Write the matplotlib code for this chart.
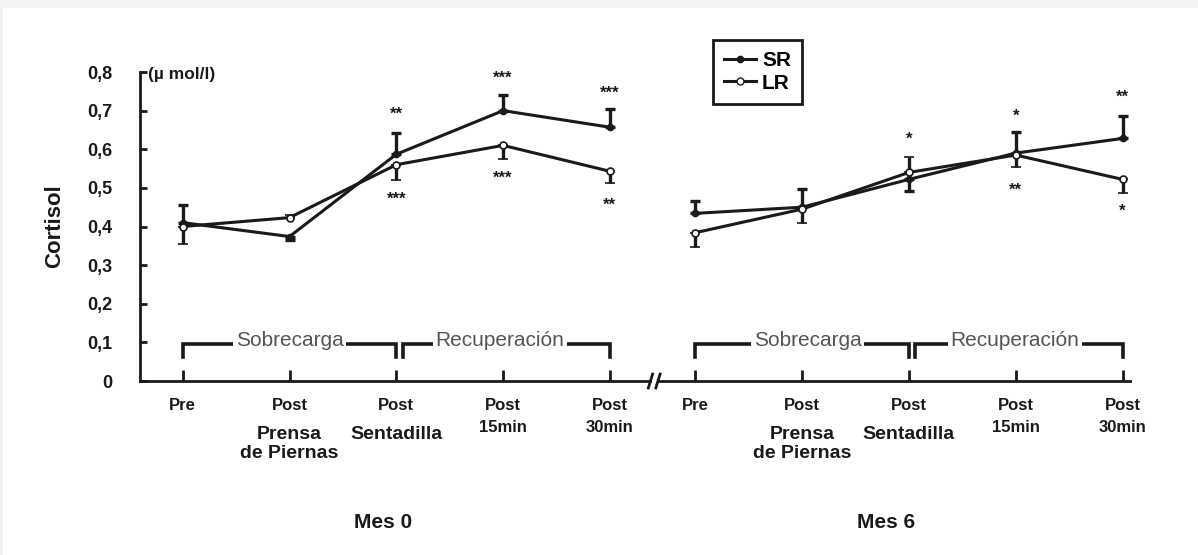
import numpy as np
import matplotlib
matplotlib.use("Agg")
import matplotlib.pyplot as plt
from matplotlib.patches import Rectangle
from matplotlib.lines import Line2D
from matplotlib.ticker import FuncFormatter

plt.rcParams['font.family'] = ['Liberation Sans', 'DejaVu Sans']

# datos (umol/l)
sr_mes0 = [0.410, 0.374, 0.587, 0.700, 0.657]
lr_mes0 = [0.400, 0.423, 0.560, 0.610, 0.543]
sr_err0 = [0.045, 0.010, 0.055, 0.040, 0.048]
lr_err0 = [0.045, 0.008, 0.040, 0.036, 0.030]

sr_mes6 = [0.434, 0.450, 0.522, 0.590, 0.628]
lr_mes6 = [0.384, 0.445, 0.540, 0.585, 0.522]
sr_err6 = [0.031, 0.048, 0.030, 0.055, 0.058]
lr_err6 = [0.036, 0.035, 0.040, 0.030, 0.034]

pos0 = [0, 1, 2, 3, 4]
pos6 = [4.8, 5.8, 6.8, 7.8, 8.8]

linea1 = ['Pre', 'Post', 'Post', 'Post', 'Post']
linea2 = ['', 'Prensa\nde Piernas', 'Sentadilla', '15min', '30min']

# asteriscos: (posicion, y, texto)
stars0 = [(2, 0.690, '**'), (2, 0.470, '***'), (3, 0.785, '***'), (3, 0.525, '***'),
          (4, 0.745, '***'), (4, 0.455, '**')]
stars6 = [(6.8, 0.625, '*'), (7.8, 0.685, '*'), (7.8, 0.495, '**'),
          (8.8, 0.735, '**'), (8.8, 0.440, '*')]

W, H = 1198, 555
fig = plt.figure(figsize=(W / 100, H / 100), dpi=100, facecolor='#f3f3f3')
fig.patches.append(Rectangle((3 / W, 0), 1, 1 - 8 / H, transform=fig.transFigure,
                             facecolor='white', edgecolor='none', zorder=-1))

ax = fig.add_axes([140 / W, 174 / H, 990 / W, 309 / H])
ax.set_facecolor('none')
ax.set_xlim(-0.4, 8.87)
ax.set_ylim(0, 0.8)
ink = '#1a1a1a'

for s in ['top', 'right', 'bottom']:
    ax.spines[s].set_visible(False)
ax.spines['left'].set_linewidth(2)
ax.spines['left'].set_color(ink)

# eje x partido
ax.plot([-0.4, 4.38], [0, 0], color=ink, lw=2, clip_on=False)
ax.plot([4.45, 8.87], [0, 0], color=ink, lw=2, clip_on=False)
for xb in [4.38, 4.45]:
    ax.plot([xb - 0.02, xb + 0.02], [-0.018, 0.018], color=ink, lw=2, clip_on=False)

ax.set_yticks(np.arange(0, 0.81, 0.1))
ax.yaxis.set_major_formatter(FuncFormatter(lambda v, p: '0' if v == 0 else ('%.1f' % v).replace('.', ',')))
ax.tick_params(axis='y', direction='in', length=5, width=2, color=ink, pad=20,
               labelsize=13)
for lab in ax.get_yticklabels():
    lab.set_fontweight('bold')
    lab.set_color(ink)
ax.set_xticks(pos0 + pos6)
ax.set_xticklabels([])
ax.tick_params(axis='x', direction='in', length=8, width=2, color=ink)

ax.set_ylabel('Cortisol', fontsize=16, fontweight='bold', labelpad=16, color=ink)
ax.text(148 / W, 1 - 75 / H, u'(\u00b5 mol/l)', transform=fig.transFigure, fontsize=12.5,
        fontweight='bold', va='center', ha='left', color=ink)


def serie(pos, sr, lr, sr_e, lr_e):
    # la barra de error va hacia arriba en la serie mas alta
    sr_lo = [0 if a >= b else e for a, b, e in zip(sr, lr, sr_e)]
    sr_hi = [e if a >= b else 0 for a, b, e in zip(sr, lr, sr_e)]
    lr_lo = [e if b < a else 0 for a, b, e in zip(sr, lr, lr_e)]
    lr_hi = [0 if b < a else e for a, b, e in zip(sr, lr, lr_e)]
    ax.errorbar(pos, sr, yerr=[sr_lo, sr_hi], color=ink, lw=2.2, capsize=3.5, capthick=2.4,
                elinewidth=2.4, marker='o', ms=4.5, mfc=ink, mec=ink, zorder=3)
    ax.errorbar(pos, lr, yerr=[lr_lo, lr_hi], color=ink, lw=2.2, capsize=3.5, capthick=2.4,
                elinewidth=2.4, marker='o', ms=5, mfc='white', mec=ink, mew=1.2, zorder=4)


serie(pos0, sr_mes0, lr_mes0, sr_err0, lr_err0)
serie(pos6, sr_mes6, lr_mes6, sr_err6, lr_err6)

for x, y, t in stars0 + stars6:
    ax.text(x, y, t, ha='center', va='center', fontsize=12, fontweight='bold', color=ink)


def llave(x0, x1, texto, xt=None):
    ax.plot([x0, x0, x1, x1], [0.062, 0.096, 0.096, 0.062], color=ink, lw=2.6,
            solid_joinstyle='miter', zorder=2)
    if xt is None:
        xt = (x0 + x1) / 2
    ax.text(xt, 0.104, texto, ha='center', va='center', fontsize=15, color='#555555',
            bbox=dict(facecolor='white', edgecolor='none', pad=2), zorder=3)


llave(0, 2, 'Sobrecarga')
llave(2.06, 4, u'Recuperación', 2.97)
llave(4.8, 6.8, 'Sobrecarga', 5.85)
llave(6.86, 8.8, u'Recuperación', 7.79)

for p, a, b in zip(pos0 + pos6, linea1 * 2, linea2 * 2):
    ax.annotate(a, xy=(p, 0), xycoords=('data', 'axes fraction'), xytext=(0, -24),
                textcoords='offset pixels', ha='center', va='center', fontsize=12,
                fontweight='bold', color=ink)
    if b:
        big = b != '15min' and b != '30min'
        ax.annotate(b, xy=(p, 0), xycoords=('data', 'axes fraction'),
                    xytext=(0, -45 if big else -39), textcoords='offset pixels',
                    ha='center', va='top', fontsize=14 if big else 12,
                    fontweight='bold', color=ink, linespacing=1.15)

fig.text(383 / W, 1 - 522 / H, 'Mes 0', ha='center', va='center', fontsize=15,
         fontweight='bold', color=ink)
fig.text(886 / W, 1 - 522 / H, 'Mes 6', ha='center', va='center', fontsize=15,
         fontweight='bold', color=ink)

handles = [Line2D([], [], color=ink, lw=2.2, marker='o', ms=4.5, mfc=ink, mec=ink),
           Line2D([], [], color=ink, lw=2.2, marker='o', ms=5, mfc='white', mec=ink)]
leg = fig.legend(handles, ['SR', 'LR'], loc='upper left',
                 bbox_to_anchor=(713 / W, 1 - 40 / H), borderaxespad=0, fancybox=False,
                 framealpha=1, edgecolor=ink, handlelength=1.5, handletextpad=0.3,
                 borderpad=0.55, labelspacing=0.15, prop={'weight': 'bold', 'size': 15})
leg.get_frame().set_linewidth(2)

fig.savefig('out.png', dpi=100, facecolor=fig.get_facecolor())
